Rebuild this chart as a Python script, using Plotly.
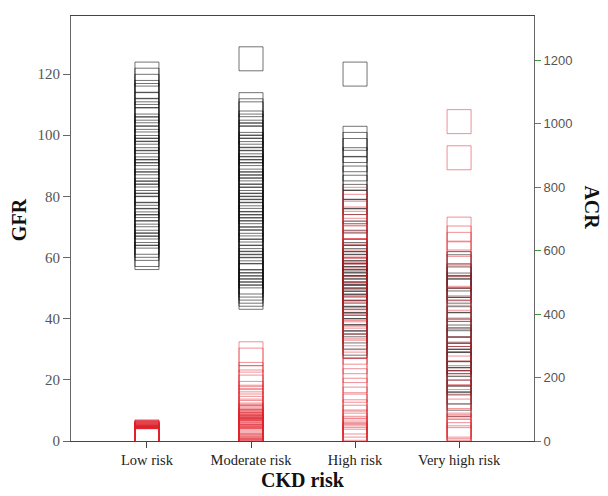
import plotly.graph_objects as go

categories = ["Low risk", "Moderate risk", "High risk", "Very high risk"]

# GFR values (left axis) per CKD risk group
gfr_low = [120, 118, 116, 114, 113, 110, 108, 107, 105, 103, 102, 101, 99, 98, 96, 95, 94, 92,
           91, 89, 88, 87, 85, 84, 82, 81, 80, 78, 77, 76, 74, 72, 71, 70, 68, 67, 65, 64, 63, 61, 60]
gfr_moderate = [125, 110, 108, 107, 104, 103, 101, 100, 99, 97, 96, 95, 94, 92, 91, 90, 89, 88,
                87, 85, 84, 83, 82, 80, 79, 78, 77, 76, 75, 74, 73, 71, 70, 69, 68, 66, 65, 64,
                62, 60, 59, 58, 57, 56, 55, 54, 52, 51, 50, 49, 48, 47]
gfr_high = [120, 99, 97, 95, 92, 89, 86, 83, 80, 78, 75, 72, 68, 65, 62, 61, 60, 59, 58, 58, 57,
            56, 55, 55, 54, 53, 52, 51, 50, 49, 48, 47, 46, 45, 44, 42, 40, 38, 36, 34, 32, 31]
gfr_very_high = [58, 57, 54, 53, 51, 50, 49, 46, 43, 40, 38, 36, 34, 33, 30, 28, 27, 26, 25, 22,
                 20, 19, 16, 14, 12]

# ACR values (right axis) per CKD risk group
acr_low = [29, 27, 26, 25, 24, 23, 22, 21, 20, 19, 18, 17, 16, 15, 14, 13, 12, 12, 11, 10, 10, 9,
           9, 8, 8, 7, 7, 6, 6, 5, 5, 4, 4, 3, 3, 3, 2, 2, 2, 1, 1]
acr_moderate = [275, 255, 210, 200, 186, 170, 150, 138, 128, 117, 103, 90, 82, 78, 75, 70, 66, 62,
                60, 58, 55, 52, 50, 48, 46, 45, 43, 42, 40, 38, 37, 36, 35, 34, 33, 32, 31, 30,
                28, 26, 25, 22, 20, 18, 15, 13, 12, 10, 8, 6, 4, 2]
acr_high = [762, 740, 718, 700, 676, 655, 640, 618, 600, 583, 560, 538, 520, 497, 480, 458, 440,
            418, 400, 376, 360, 338, 318, 300, 280, 250, 222, 190, 160, 132, 110, 92, 75, 60, 50,
            40, 32, 25, 20, 15, 10, 5]
acr_very_high = [1007, 893, 668, 640, 620, 590, 560, 520, 480, 450, 420, 390, 350, 320, 290, 260,
                 230, 200, 170, 140, 110, 80, 50, 45, 40, 30, 20, 10]

gfr_groups = [gfr_low, gfr_moderate, gfr_high, gfr_very_high]
acr_groups = [acr_low, acr_moderate, acr_high, acr_very_high]

gx, gy, ax_, ay = [], [], [], []
for cat, g, a in zip(categories, gfr_groups, acr_groups):
    gx += [cat] * len(g)
    gy += g
    ax_ += [cat] * len(a)
    ay += a

serif = "Liberation Serif, Times New Roman, serif"
sans = "Liberation Sans, Arial, sans-serif"

fig = go.Figure()
fig.add_trace(go.Scatter(
    x=gx, y=gy, mode="markers", name="GFR", yaxis="y",
    marker=dict(symbol="square", size=24, color="rgba(0,0,0,0)",
                line=dict(color="rgba(0,0,0,0.55)", width=1)),
))
fig.add_trace(go.Scatter(
    x=ax_, y=ay, mode="markers", name="ACR", yaxis="y2",
    marker=dict(symbol="square", size=24, color="rgba(0,0,0,0)",
                line=dict(color="rgba(225,35,45,0.5)", width=1)),
))

fig.update_layout(
    width=600, height=488,
    margin=dict(l=63, r=74, t=8, b=55),
    paper_bgcolor="white", plot_bgcolor="white",
    showlegend=False,
    font=dict(family=serif, size=13, color="#333"),
    xaxis=dict(
        type="category", categoryorder="array", categoryarray=categories,
        range=[-0.73, 3.72], showgrid=False, zeroline=False,
        showline=True, linecolor="#444", linewidth=1, mirror=True,
        ticks="outside", ticklen=6, tickcolor="#444",
        tickfont=dict(family=serif, size=14.5, color="#222"),
    ),
    yaxis=dict(
        range=[0, 139], tickvals=[0, 20, 40, 60, 80, 100, 120],
        showgrid=False, zeroline=False,
        showline=True, linecolor="#666", linewidth=1,
        ticks="outside", ticklen=7, tickcolor="#666",
        tickfont=dict(family=serif, size=15, color="#555"),
    ),
    yaxis2=dict(
        overlaying="y", side="right", anchor="x",
        range=[0, 1340], tickvals=[0, 200, 400, 600, 800, 1000, 1200],
        showgrid=False, zeroline=False,
        showline=True, linecolor="#666", linewidth=1,
        ticks="outside", ticklen=6, tickcolor="#3a9a3a",
        tickfont=dict(family=sans, size=13, color="#555"),
    ),
    annotations=[
        dict(text="<b>GFR</b>", xref="paper", yref="paper", x=-0.112, y=0.52,
             xanchor="center", yanchor="middle",
             textangle=-90, showarrow=False, font=dict(family=serif, size=20, color="#111")),
        dict(text="<b>ACR</b>", xref="paper", yref="paper", x=1.125, y=0.55,
             xanchor="center", yanchor="middle",
             textangle=90, showarrow=False, font=dict(family=serif, size=20, color="#111")),
        dict(text="<b>CKD risk</b>", xref="paper", yref="paper", x=0.501, y=-0.092,
             xanchor="center", yanchor="middle",
             showarrow=False, font=dict(family=serif, size=20, color="#111")),
    ],
    shapes=[
        dict(type="line", xref="paper", yref="paper", x0=1.106, x1=1.16, y0=0.525, y1=0.525,
             line=dict(color="#bbb", width=1)),
    ],
)

fig.write_html("out.html")
